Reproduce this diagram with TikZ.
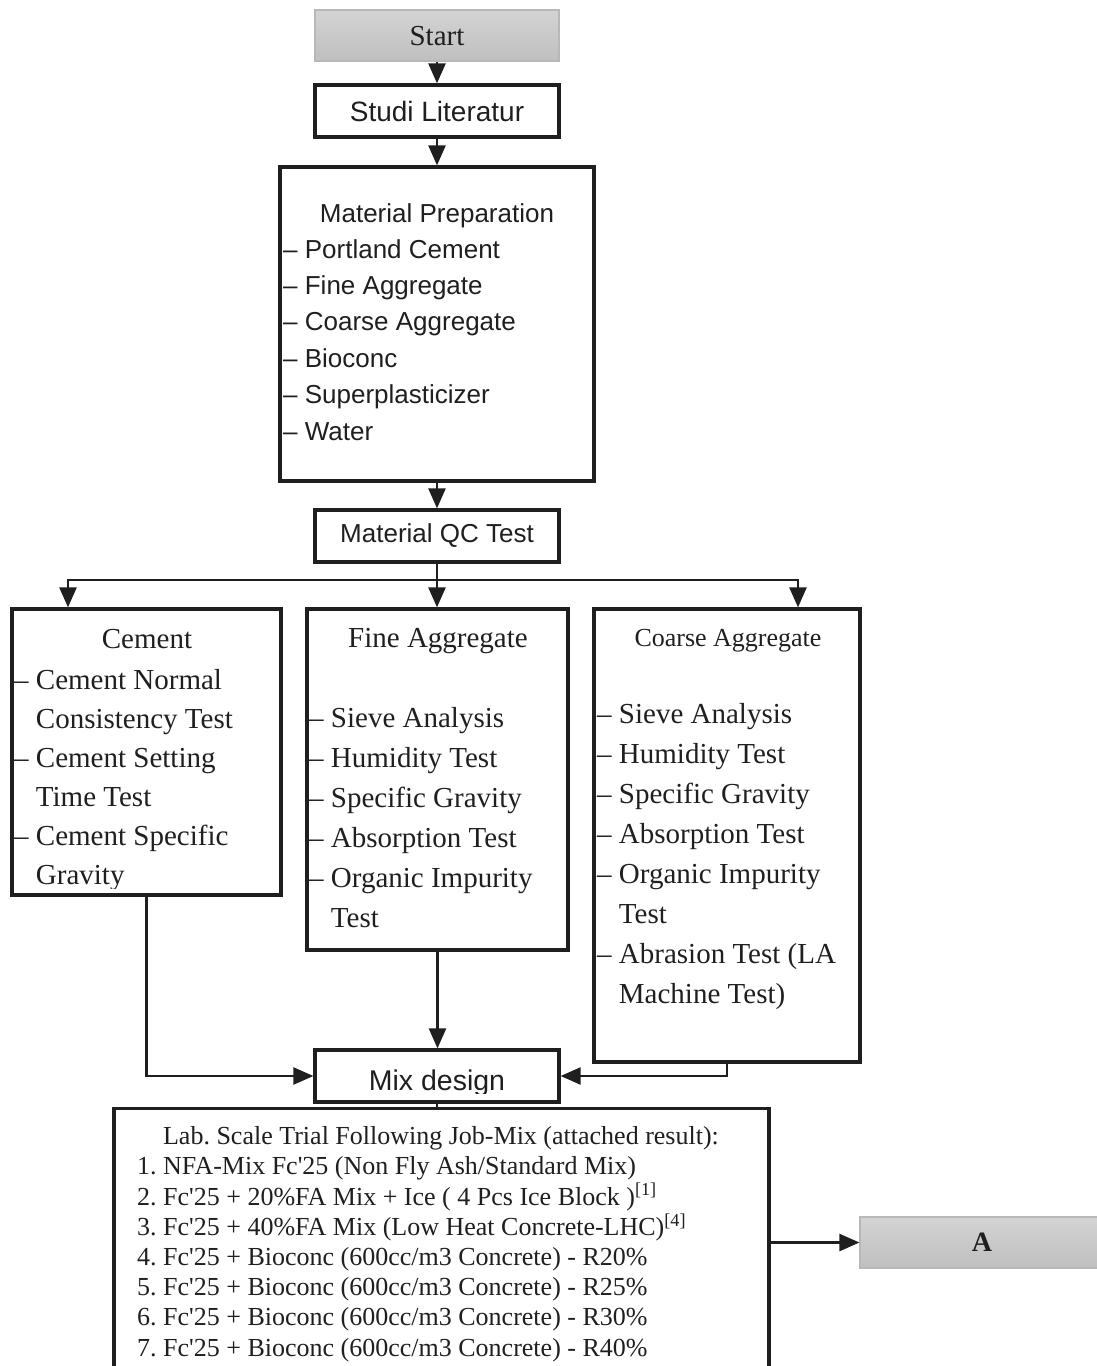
\documentclass[tikz,border=0pt]{standalone}
\usepackage{fontspec}
\setmainfont{Liberation Serif}
\setsansfont{Liberation Sans}
\usetikzlibrary{arrows.meta}
\newcommand{\dsh}{–\ }
\newcommand{\ind}{\phantom{–}\ }
\frenchspacing

\begin{document}
\begin{tikzpicture}[x=1pt, y=-1pt, color=black!88,
  box/.style={draw, line width=3.2pt, inner sep=0pt},
  gbox/.style={draw=black!28, line width=1.2pt, top color=black!17, bottom color=black!25, inner sep=0pt, minimum width=244, minimum height=51},
  arr/.style={line width=2.4pt, -{Triangle[length=20pt, width=17pt]}},
  lnk/.style={line width=2.4pt},
  sf/.style={font=\sffamily\fontsize{26}{36.4}\selectfont},
  rm/.style={font=\fontsize{29}{40}\selectfont},
  lst/.style={align=left, inner sep=0pt, anchor=base west}]
\useasboundingbox (0,0) rectangle (1097,1366);
\clip (0,0) rectangle (1097,1366);

\node[gbox, font=\fontsize{29}{34}\selectfont, text height=21, text depth=1] (start) at (437,35.5) {Start};
\node[box, font=\sffamily\fontsize{28}{34}\selectfont, minimum width=244, minimum height=52] (lit) at (437,111) {Studi Literatur};

% list nodes are placed at the baseline of their last line
\node[box, minimum width=314, minimum height=314] (prep) at (437,324) {};
\node[sf, anchor=base] (prept) at (437,222) {Material Preparation};
\node[sf, lst] (prepl) at (283,440) {\dsh Portland Cement\\ \dsh Fine Aggregate\\ \dsh Coarse Aggregate\\ \dsh Bioconc\\ \dsh Superplasticizer\\ \dsh Water};

\node[box, sf, minimum width=244, minimum height=52] (qc) at (437,536) {Material QC Test};
\coordinate (jc) at (437,580);
\coordinate (jl) at (68,580);
\coordinate (jr) at (798,580);

% cement
\node[box, minimum width=269, minimum height=286] (cem) at (146.5,752) {};
\node[rm, anchor=base] (cemt) at (147,648) {Cement};
\begin{scope}
\clip (12,609) rectangle (281,888);
\node[lst, font=\fontsize{29}{39}\selectfont] (ceml) at (14,884) {\dsh Cement Normal\\ \ind Consistency Test\\ \dsh Cement Setting\\ \ind Time Test\\ \dsh Cement Specific\\ \ind Gravity};
\end{scope}

% fine aggregate
\node[box, minimum width=261, minimum height=341] (fine) at (437.5,779.5) {};
\node[rm, anchor=base] (finet) at (438,647) {Fine Aggregate};
\node[rm, lst] (finel) at (309,927) {\dsh Sieve Analysis\\ \dsh Humidity Test\\ \dsh Specific Gravity\\ \dsh Absorption Test\\ \dsh Organic Impurity\\ \ind Test};

% coarse aggregate
\node[box, minimum width=266, minimum height=453] (coarse) at (727,835.5) {};
\node[font=\fontsize{26}{30}\selectfont, anchor=base] (coarset) at (728,646) {Coarse Aggregate};
\node[rm, lst] (coarsel) at (597,1003) {\dsh Sieve Analysis\\ \dsh Humidity Test\\ \dsh Specific Gravity\\ \dsh Absorption Test\\ \dsh Organic Impurity\\ \ind Test\\ \dsh Abrasion Test (LA\\ \ind Machine Test)};

% mix design
\node[box, minimum width=244, minimum height=52] (mix) at (437,1076) {};
\begin{scope}
\clip (315,1050) rectangle (559,1093);
\node[font=\sffamily\fontsize{28.5}{34}\selectfont, anchor=base] (mixt) at (437,1090) {Mix design};
\end{scope}

\node[box, minimum width=655, minimum height=340, anchor=north] (lab) at (441.5,1107) {};
\node[font=\fontsize{26}{30.2}\selectfont, anchor=base] (labt) at (441,1144) {Lab. Scale Trial Following Job-Mix (attached result):};
\node[lst, font=\fontsize{26}{30.2}\selectfont] (labl) at (137,1356) {1. NFA-Mix Fc\textquotesingle 25 (Non Fly Ash/Standard Mix)\\
2. Fc\textquotesingle 25 + 20\%FA Mix + Ice ( 4 Pcs Ice Block )\textsuperscript{[1]}\\
3. Fc\textquotesingle 25 + 40\%FA Mix (Low Heat Concrete-LHC)\textsuperscript{[4]}\\
4. Fc\textquotesingle 25 + Bioconc (600cc/m3 Concrete) - R20\%\\
5. Fc\textquotesingle 25 + Bioconc (600cc/m3 Concrete) - R25\%\\
6. Fc\textquotesingle 25 + Bioconc (600cc/m3 Concrete) - R30\%\\
7. Fc\textquotesingle 25 + Bioconc (600cc/m3 Concrete) - R40\%};

\node[gbox, font=\bfseries\fontsize{28}{34}\selectfont] (enda) at (982,1242.5) {A};

\draw[arr] (start) -- (lit);
\draw[arr] (lit) -- (prep);
\draw[arr] (prep) -- (qc);
\draw[lnk] (qc) -- (jc);
\draw[arr] (jc) -| (jl |- cem.north);
\draw[arr] (jc) -| (jr |- coarse.north);
\draw[arr] (jc) -- (jc |- fine.north);
\draw[arr] (cem.south) |- (mix.west);
\draw[arr] (fine.south) -- (fine.south |- mix.north);
\draw[arr] (coarse.south) |- (mix.east);
\draw[lnk] (mix.south) -- (mix.south |- lab.north);
\draw[arr] (lab.east |- enda.west) -- (enda.west);

\end{tikzpicture}
\end{document}
